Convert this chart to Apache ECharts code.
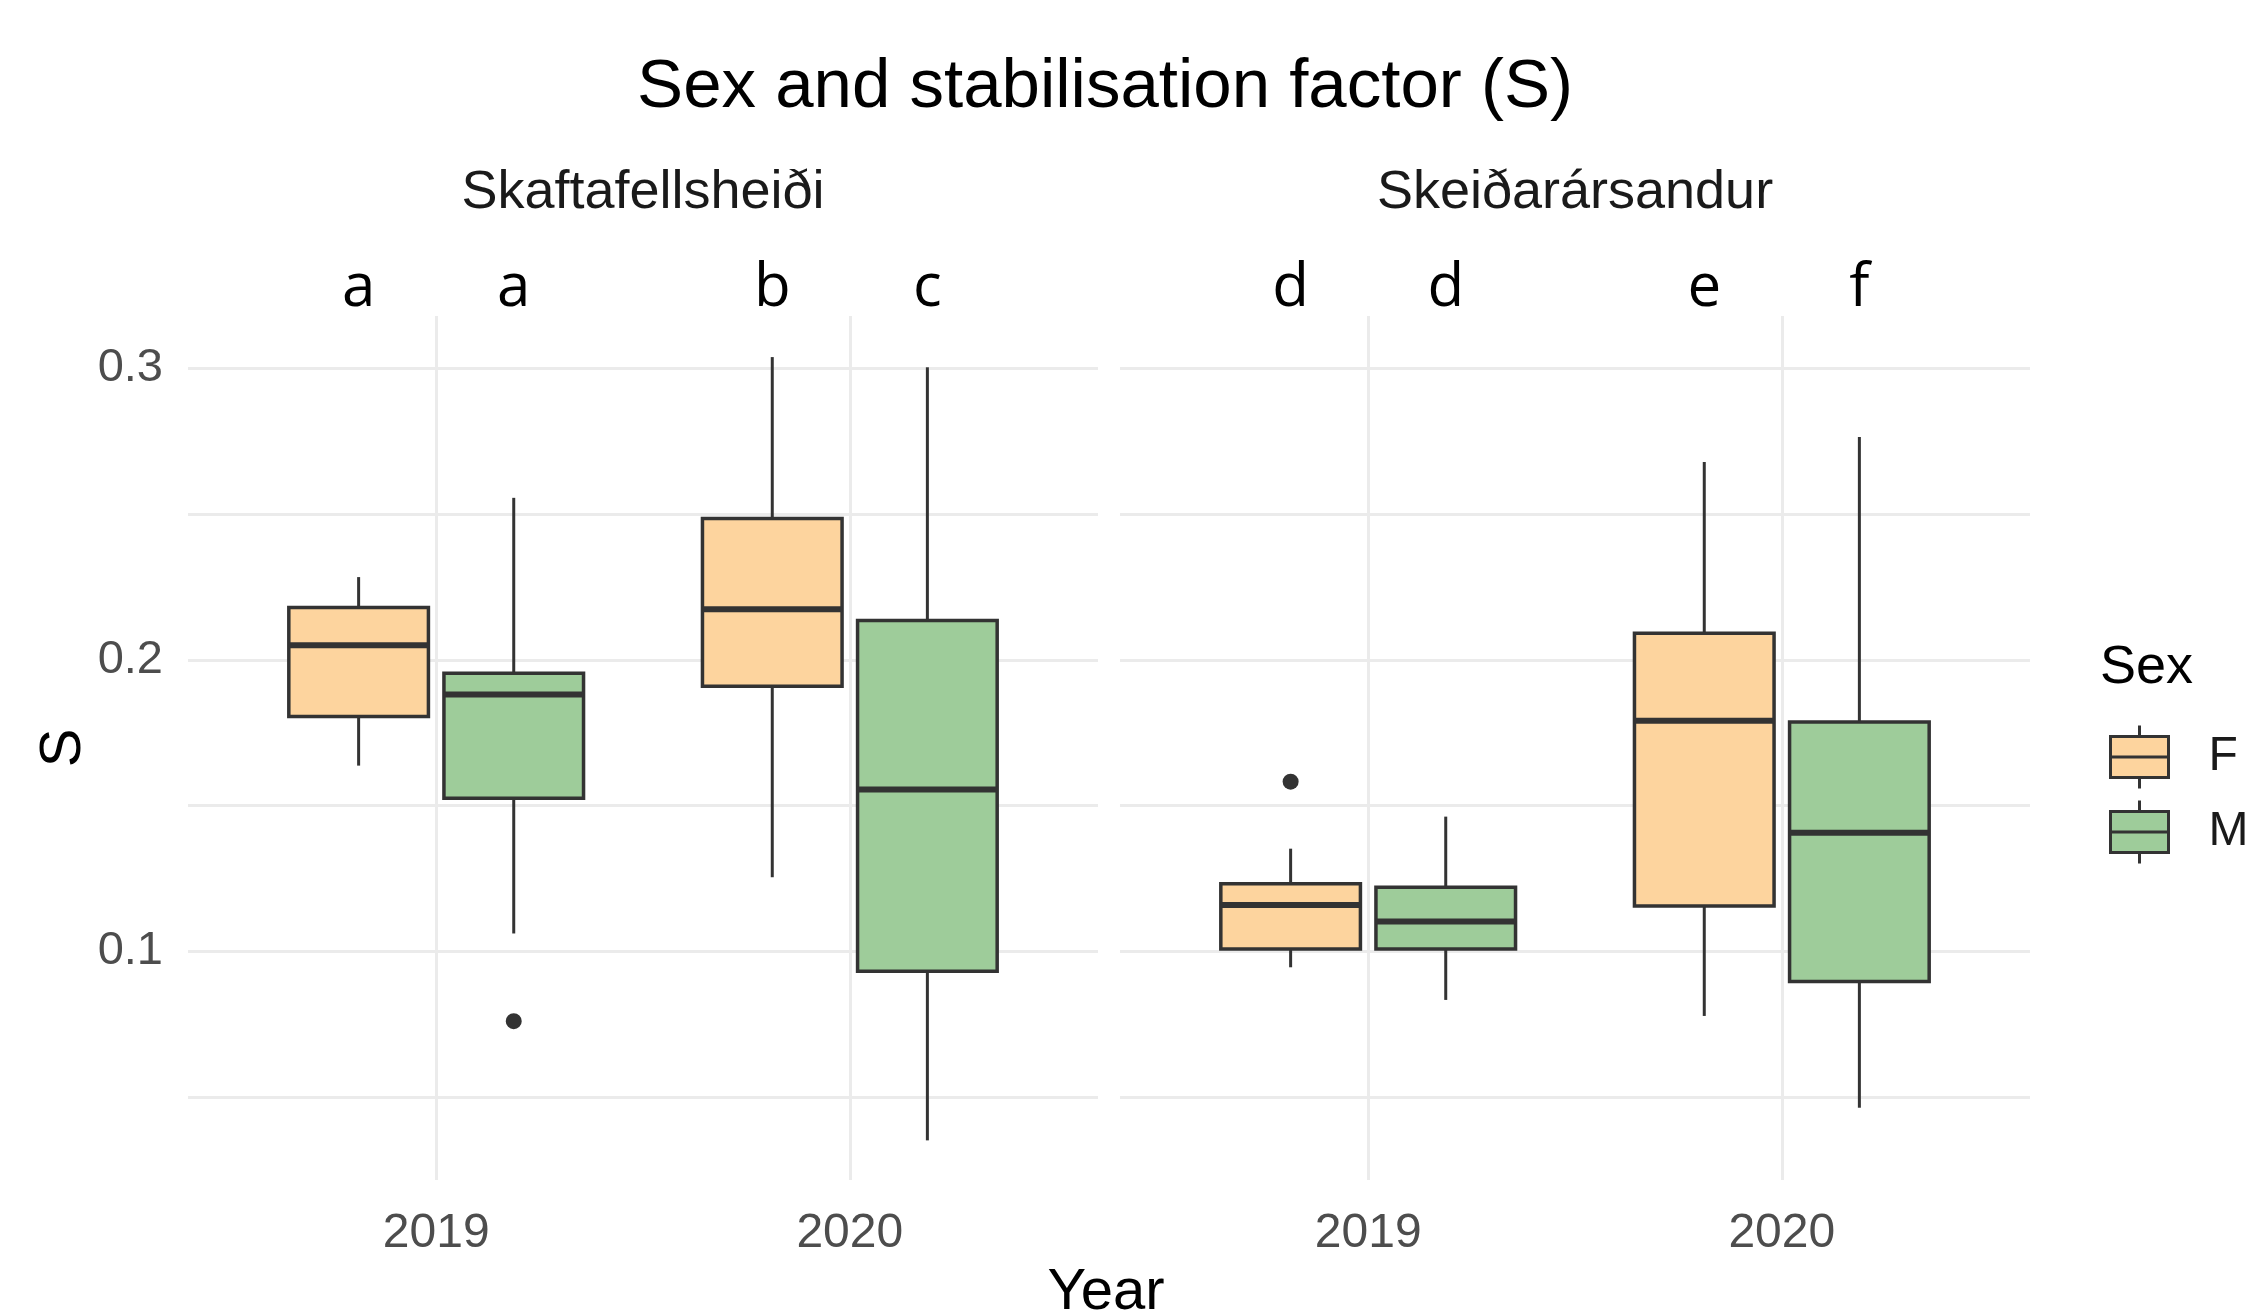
<!DOCTYPE html>
<html>
<head>
<meta charset="utf-8">
<title>Sex and stabilisation factor (S)</title>
<script src="https://cdn.jsdelivr.net/npm/echarts@6/dist/echarts.min.js"></script>
<style>
  html, body { margin: 0; padding: 0; background: #ffffff; }
  #chart { width: 2253px; height: 1312px; }
</style>
</head>
<body>
<div id="chart"></div>
<script>
// ---- data -------------------------------------------------------------
const years = [2019, 2020];
const sites = ['Skaftafellsheiði', 'Skeiðarársandur'];
const sexes = ['F', 'M'];

// five-number summaries per year: [lower whisker, Q1, median, Q3, upper whisker]
const skaftF = [[0.1637, 0.1806, 0.2050, 0.2180, 0.2284], [0.1254, 0.1909, 0.2174, 0.2485, 0.3039]];
const skaftM = [[0.1061, 0.1525, 0.1881, 0.1954, 0.2556], [0.0351, 0.0931, 0.1555, 0.2135, 0.3004]];
const skeidF = [[0.0945, 0.1008, 0.1159, 0.1232, 0.1352], [0.0778, 0.1155, 0.1791, 0.2091, 0.2679]];
const skeidM = [[0.0833, 0.1008, 0.1102, 0.1220, 0.1462], [0.0463, 0.0896, 0.1407, 0.1787, 0.2765]];

// outlying observations: [year, S]
const skaftOutM = [[2019, 0.0760]];
const skeidOutF = [[2019, 0.1582]];

// significance-group letters per year
const skaftLettersF = ['a', 'b'];
const skaftLettersM = ['a', 'c'];
const skeidLettersF = ['d', 'e'];
const skeidLettersM = ['d', 'f'];

// axis ticks
const yLabelTicks = [0.1, 0.2, 0.3];
const yGridTicks = [0.05, 0.1, 0.15, 0.2, 0.25, 0.3];

// ---- styling constants -------------------------------------------------
const FONT = '"Liberation Sans", Arial, sans-serif';
const FILL = { F: '#fdd49e', M: '#9ecc9a' };
const INK = '#333333';
const GRID_LINE = '#ebebeb';
const DODGE = 0.1875;      // half of the dodge width (0.75 / 2 / 2) in year units
const BOX_HALF = 0.16875;  // half box width in year units
const Y_MIN = 0.0215, Y_MAX = 0.318;

function rows(stats) {
  return years.map((y, i) => [y].concat(stats[i]));
}

function boxSeries(sex, gridIndex, stats, letters) {
  const off = sex === 'F' ? -DODGE : DODGE;
  return {
    type: 'custom',
    name: sex,
    xAxisIndex: gridIndex,
    yAxisIndex: gridIndex,
    itemStyle: { color: FILL[sex], borderColor: INK, borderWidth: 3 },
    encode: { x: 0, y: [1, 2, 3, 4, 5] },
    data: rows(stats),
    renderItem: function (params, api) {
      const x = api.value(0) + off;
      const lo = api.value(1), q1 = api.value(2), med = api.value(3), q3 = api.value(4), hi = api.value(5);
      const cx = api.coord([x, med])[0];
      const left = api.coord([x - BOX_HALF, med])[0];
      const right = api.coord([x + BOX_HALF, med])[0];
      const yLo = api.coord([x, lo])[1];
      const yQ1 = api.coord([x, q1])[1];
      const yMed = api.coord([x, med])[1];
      const yQ3 = api.coord([x, q3])[1];
      const yHi = api.coord([x, hi])[1];
      const top = params.coordSys.y;
      return {
        type: 'group',
        children: [
          { type: 'line', shape: { x1: cx, y1: yQ3, x2: cx, y2: yHi }, style: { stroke: INK, lineWidth: 3 } },
          { type: 'line', shape: { x1: cx, y1: yQ1, x2: cx, y2: yLo }, style: { stroke: INK, lineWidth: 3 } },
          { type: 'rect', shape: { x: left, y: yQ3, width: right - left, height: yQ1 - yQ3 },
            style: { fill: api.visual('color'), stroke: INK, lineWidth: 3.5 } },
          { type: 'line', shape: { x1: left, y1: yMed, x2: right, y2: yMed }, style: { stroke: INK, lineWidth: 6 } },
          { type: 'text', style: { x: cx, y: top - 27, text: letters[params.dataIndex],
              font: '60px "Open Sans", sans-serif', fill: '#000000', align: 'center', verticalAlign: 'middle' } }
        ]
      };
    }
  };
}

function outlierSeries(sex, gridIndex, points) {
  const off = sex === 'F' ? -DODGE : DODGE;
  return {
    type: 'custom',
    name: sex,
    xAxisIndex: gridIndex,
    yAxisIndex: gridIndex,
    itemStyle: { color: FILL[sex] },
    encode: { x: 0, y: 1 },
    data: points,
    renderItem: function (params, api) {
      const p = api.coord([api.value(0) + off, api.value(1)]);
      return { type: 'circle', shape: { cx: p[0], cy: p[1], r: 8 }, style: { fill: INK } };
    }
  };
}

function xAxis(gridIndex) {
  return {
    type: 'value', gridIndex: gridIndex, min: 2018.4, max: 2020.6,
    axisLine: { show: false },
    axisTick: { show: false, customValues: years },
    axisLabel: { customValues: years, formatter: v => String(v), margin: 30,
      fontSize: 48, fontFamily: FONT, color: '#4d4d4d' },
    splitLine: { show: true, lineStyle: { color: GRID_LINE, width: 3 } }
  };
}

function yAxis(gridIndex, showLabels) {
  const ax = {
    type: 'value', gridIndex: gridIndex, min: Y_MIN, max: Y_MAX,
    axisLine: { show: false },
    axisTick: { show: false, customValues: yGridTicks },
    axisLabel: { show: showLabels, customValues: yLabelTicks, formatter: v => v.toFixed(1), margin: 25,
      fontSize: 47, fontFamily: FONT, color: '#4d4d4d' },
    splitLine: { show: true, lineStyle: { color: GRID_LINE, width: 3 } }
  };
  if (showLabels) {
    ax.name = 'S';
    ax.nameLocation = 'middle';
    ax.nameRotate = 90;
    ax.nameGap = 95;
    ax.nameTextStyle = { fontSize: 58, fontFamily: FONT, color: '#000000' };
  }
  return ax;
}

const chart = echarts.init(document.getElementById('chart'), null, { renderer: 'canvas' });

const option = {
  backgroundColor: '#ffffff',
  animation: false,
  title: {
    text: 'Sex and stabilisation factor (S)',
    left: 1105, top: 53, textAlign: 'center', padding: 0,
    textStyle: { fontSize: 69, fontWeight: 'normal', fontFamily: FONT, color: '#000000' }
  },
  grid: [
    { left: 188, top: 316, width: 910, height: 864, outerBoundsMode: 'none' },
    { left: 1120, top: 316, width: 910, height: 864, outerBoundsMode: 'none' }
  ],
  xAxis: [xAxis(0), xAxis(1)],
  yAxis: [yAxis(0, true), yAxis(1, false)],
  legend: {
    data: sexes,
    orient: 'vertical',
    left: 2104, top: 719,
    itemWidth: 58, itemHeight: 63, itemGap: 9,
    icon: 'path://M29,0L29,11M0,11L58,11L58,52L0,52ZM0,31.5L58,31.5M29,52L29,63',
    itemStyle: { borderColor: INK, borderWidth: 3 },
    selectedMode: false,
    textStyle: { fontSize: 48, fontFamily: FONT, color: '#1a1a1a', padding: [0, 0, 0, 35] }
  },
  graphic: [
    { type: 'text', style: { x: 643, y: 193, text: sites[0], font: '54px ' + FONT, fill: '#1a1a1a', align: 'center', verticalAlign: 'middle' } },
    { type: 'text', style: { x: 1575, y: 193, text: sites[1], font: '54px ' + FONT, fill: '#1a1a1a', align: 'center', verticalAlign: 'middle' } },
    { type: 'text', style: { x: 1106, y: 1293, text: 'Year', font: '58px ' + FONT, fill: '#000000', align: 'center', verticalAlign: 'middle' } },
    { type: 'text', style: { x: 2100, y: 668, text: 'Sex', font: '54px ' + FONT, fill: '#000000', align: 'left', verticalAlign: 'middle' } }
  ],
  series: [
    boxSeries('F', 0, skaftF, skaftLettersF),
    boxSeries('M', 0, skaftM, skaftLettersM),
    boxSeries('F', 1, skeidF, skeidLettersF),
    boxSeries('M', 1, skeidM, skeidLettersM),
    outlierSeries('M', 0, skaftOutM),
    outlierSeries('F', 1, skeidOutF)
  ]
};

chart.setOption(option);
</script>
</body>
</html>
